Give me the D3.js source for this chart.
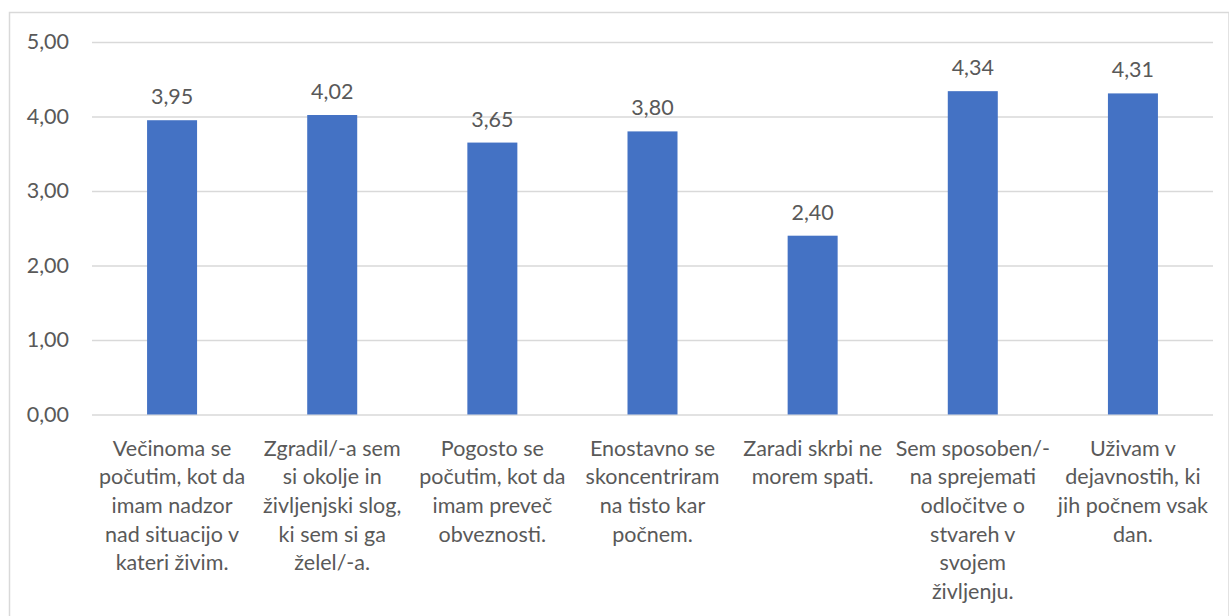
<!DOCTYPE html>
<html>
<head>
<meta charset="utf-8">
<script src="https://cdn.jsdelivr.net/npm/d3@7"></script>
<style>
  html, body { margin: 0; padding: 0; background: #fff; }
  svg { display: block; }
  text { font-family: "Lato", "Open Sans", sans-serif; fill: #595959; }
</style>
</head>
<body>
<svg id="chart" width="1229" height="616"></svg>
<script>
// Category labels, already broken into lines as they are printed under each bar
const categories = [
  ["Večinoma se", "počutim, kot da", "imam nadzor", "nad situacijo v", "kateri živim."],
  ["Zgradil/-a sem", "si okolje in", "življenjski slog,", "ki sem si ga", "želel/-a."],
  ["Pogosto se", "počutim, kot da", "imam preveč", "obveznosti."],
  ["Enostavno se", "skoncentriram", "na tisto kar", "počnem."],
  ["Zaradi skrbi ne", "morem spati."],
  ["Sem sposoben/-", "na sprejemati", "odločitve o", "stvareh v", "svojem", "življenju."],
  ["Uživam v", "dejavnostih, ki", "jih počnem vsak", "dan."]
];
const values = [3.95, 4.02, 3.65, 3.80, 2.40, 4.34, 4.31];
const yTicks = [0, 1, 2, 3, 4, 5];

const svg = d3.select("#chart");
const W = 1229, H = 616;
const plot = { left: 92, right: 1213, top: 42, bottom: 414.5 };
const fontSize = 21.5;

const fmt = v => d3.format(".2f")(v).replace(".", ",");

// chart frame
svg.append("rect")
  .attr("x", 9.5).attr("y", 12.5)
  .attr("width", W - 9.5).attr("height", H - 12.5 + 5)
  .attr("fill", "none").attr("stroke", "#d9d9d9").attr("stroke-width", 1.5);

const x = d3.scaleBand()
  .domain(d3.range(categories.length))
  .range([plot.left, plot.right])
  .paddingInner(0).paddingOuter(0);

const y = d3.scaleLinear().domain([0, 5]).range([plot.bottom, plot.top]);

// horizontal gridlines and value axis labels
const yAxis = d3.axisLeft(y).tickValues(yTicks).tickFormat(fmt)
  .tickSize(-(plot.right - plot.left)).tickPadding(23);
const gy = svg.append("g").attr("transform", `translate(${plot.left},0)`).call(yAxis);
gy.select(".domain").remove();
gy.selectAll(".tick line").attr("stroke", "#d9d9d9").attr("stroke-width", 1.5);
gy.selectAll(".tick text").attr("font-size", fontSize).attr("fill", "#595959")
  .attr("font-family", "Lato, 'Open Sans', sans-serif");

// bars
const barW = 50;
svg.append("g").selectAll("rect").data(values).join("rect")
  .attr("x", (d, i) => x(i) + x.bandwidth() / 2 - barW / 2)
  .attr("width", barW)
  .attr("y", d => y(d))
  .attr("height", d => y(0) - y(d))
  .attr("fill", "#4472c4");

// value labels
svg.append("g").selectAll("text").data(values).join("text")
  .attr("x", (d, i) => x(i) + x.bandwidth() / 2)
  .attr("y", d => y(d) - 16)
  .attr("text-anchor", "middle")
  .attr("font-size", fontSize)
  .text(fmt);

// category labels
const lineH = 28.7;
const cg = svg.append("g").selectAll("text").data(categories).join("text")
  .attr("x", (d, i) => x(i) + x.bandwidth() / 2)
  .attr("y", 455.5)
  .attr("text-anchor", "middle")
  .attr("font-size", fontSize);
cg.selectAll("tspan").data(d => d).join("tspan")
  .attr("x", function () { return d3.select(this.parentNode).attr("x"); })
  .attr("dy", (d, i) => i === 0 ? 0 : lineH)
  .text(d => d);
</script>
</body>
</html>
